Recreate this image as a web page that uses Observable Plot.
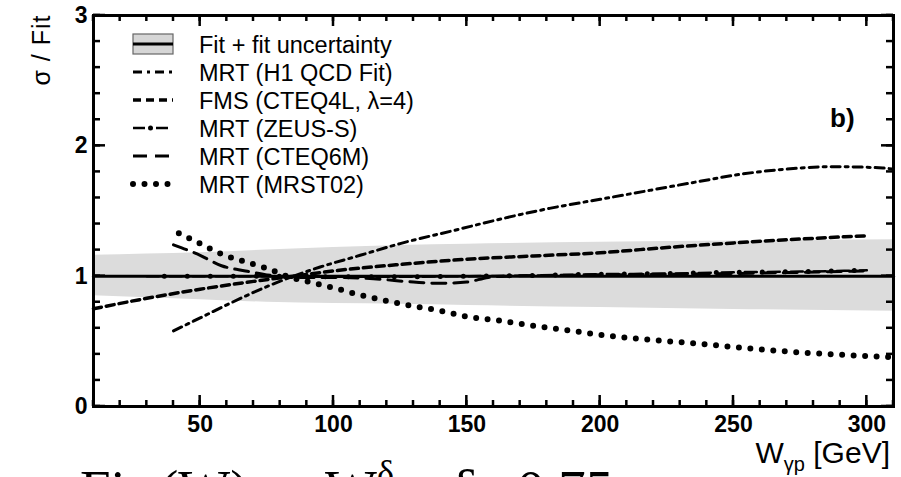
<!DOCTYPE html>
<html><head><meta charset="utf-8">
<script src="https://cdn.jsdelivr.net/npm/d3@7"></script>
<script src="https://cdn.jsdelivr.net/npm/@observablehq/plot@0.6"></script>
<style>
body{margin:0;background:#fff;}
#wrap{position:relative;width:901px;height:477px;overflow:hidden;}
</style></head><body><div id="wrap"></div>
<script>
// ---- data (W in GeV, ratio sigma/Fit) ----
const bandW  = [10, 30, 50, 75, 100, 125, 150, 200, 250, 310];
const bandLo = [0.85, 0.835, 0.82, 0.80, 0.79, 0.785, 0.775, 0.76, 0.745, 0.73];
const bandHi = [1.16, 1.17, 1.18, 1.20, 1.22, 1.235, 1.245, 1.26, 1.27, 1.28];

const fitW = [10, 310];
const fitR = [1, 1];

const h1W = [40, 50, 60, 75, 85, 95, 110, 125, 145, 163, 181, 200, 219, 238, 252, 269, 288, 306, 310];
const h1R = [0.58, 0.68, 0.78, 0.92, 1.0, 1.07, 1.16, 1.25, 1.35, 1.44, 1.52, 1.59, 1.66, 1.73, 1.78, 1.82, 1.84, 1.83, 1.82];

const fmsW = [10, 30, 50, 70, 85, 100, 125, 150, 175, 200, 225, 250, 275, 300];
const fmsR = [0.75, 0.83, 0.90, 0.96, 1.0, 1.04, 1.09, 1.13, 1.155, 1.18, 1.22, 1.255, 1.285, 1.31];

const zeusW = [30, 50, 75, 100, 125, 150, 175, 200, 225, 250, 275, 300];
const zeusR = [1.0, 1.0, 1.0, 0.995, 0.995, 1.0, 1.005, 1.015, 1.02, 1.03, 1.035, 1.045];

const cteqW = [40, 50, 58, 67, 75, 85, 100, 115, 130, 140, 150, 158, 165, 200, 250, 300];
const cteqR = [1.24, 1.16, 1.08, 1.04, 1.01, 0.99, 0.99, 0.98, 0.955, 0.945, 0.955, 0.99, 1.0, 1.01, 1.02, 1.04];

const mrstW = [42, 50, 58, 67, 75, 84, 92, 101, 110, 120, 130, 140, 150, 162, 175, 188, 200, 220, 238, 256, 275, 292, 308];
const mrstR = [1.33, 1.25, 1.17, 1.11, 1.06, 0.99, 0.95, 0.905, 0.855, 0.81, 0.77, 0.735, 0.69, 0.66, 0.62, 0.585, 0.55, 0.51, 0.48, 0.445, 0.415, 0.395, 0.38];

const legendLabels = ["Fit + fit uncertainty", "MRT (H1 QCD Fit)", "FMS (CTEQ4L, \u03bb=4)", "MRT (ZEUS-S)", "MRT (CTEQ6M)", "MRT (MRST02)"];
const xMajor = [50, 100, 150, 200, 250, 300];
const xMinor = d3.range(10, 311, 10);
const yMajor = [0, 1, 2, 3];
const yMinor = d3.range(0, 3.01, 0.2).map(v => +v.toFixed(1));

// ---- tables ----
const zip = (ws, rs) => ws.map((w, i) => ({w, r: rs[i]}));
const band = bandW.map((w, i) => ({w, lo: bandLo[i], hi: bandHi[i]}));
const fit = zip(fitW, fitR), h1 = zip(h1W, h1R), fms = zip(fmsW, fmsR),
      zeus = zip(zeusW, zeusR), cteq = zip(cteqW, cteqR), mrst = zip(mrstW, mrstR);

const styles = {
  h1:   {stroke: "black", strokeWidth: 3, strokeDasharray: "9 5 3 5"},
  fms:  {stroke: "black", strokeWidth: 3.5, strokeDasharray: "8 5"},
  zeusA:{stroke: "black", strokeWidth: 2.5, strokeDasharray: "12 11"},
  zeusB:{stroke: "black", strokeWidth: 5, strokeDasharray: "0 23", strokeDashoffset: -17.5, strokeLinecap: "round"},
  cteq: {stroke: "black", strokeWidth: 3, strokeDasharray: "14 8"},
  mrst: {stroke: "black", strokeWidth: 6, strokeDasharray: "0 11.5", strokeLinecap: "round"}
};

const curve = "monotone-x";
const chart = Plot.plot({
  width: 901, height: 477,
  marginLeft: 93, marginRight: 8, marginTop: 15, marginBottom: 71,
  x: {domain: [10, 310]},
  y: {domain: [0, 3]},
  style: {fontFamily: "'Liberation Sans', Arial, sans-serif", background: "white", color: "black"},
  marks: [
    Plot.areaY(band, {x: "w", y1: "lo", y2: "hi", fill: "#dcdcdc", curve}),
    Plot.line(h1,   {x: "w", y: "r", curve, ...styles.h1}),
    Plot.line(fms,  {x: "w", y: "r", curve, ...styles.fms}),
    Plot.line(zeus, {x: "w", y: "r", curve, ...styles.zeusA}),
    Plot.line(zeus, {x: "w", y: "r", curve, ...styles.zeusB}),
    Plot.line(cteq, {x: "w", y: "r", curve, ...styles.cteq}),
    Plot.line(mrst, {x: "w", y: "r", curve, ...styles.mrst}),
    Plot.line(fit,  {x: "w", y: "r", stroke: "black", strokeWidth: 3}),
    Plot.frame({stroke: "black", strokeWidth: 3}),
    Plot.axisX(xMajor, {anchor: "bottom", tickSize: 0, tickPadding: 9, fontSize: 23, fontWeight: "bold", label: null, tickFormat: d => String(d)}),
    Plot.axisY(yMajor, {anchor: "left", tickSize: 0, tickPadding: 6, fontSize: 23, fontWeight: "bold", label: null, tickFormat: d => String(d)})
  ]
});
document.getElementById("wrap").appendChild(chart);

// ---- inward ticks on all four sides, positioned with Plot's scales ----
const svg = d3.select(chart);
const sx = chart.scale("x"), sy = chart.scale("y");
const [fx0, fx1] = sx.range, [fy0, fy1] = sy.range; // fy0 bottom, fy1 top
const tg = svg.append("g").attr("stroke", "black").attr("stroke-width", 2.5);
const xt = (vals, len) => vals.forEach(v => {
  const X = sx.apply(v);
  tg.append("line").attr("x1", X).attr("x2", X).attr("y1", fy0).attr("y2", fy0 - len);
  tg.append("line").attr("x1", X).attr("x2", X).attr("y1", fy1).attr("y2", fy1 + len);
});
const yt = (vals, len) => vals.forEach(v => {
  const Y = sy.apply(v);
  tg.append("line").attr("y1", Y).attr("y2", Y).attr("x1", fx0).attr("x2", fx0 + len);
  tg.append("line").attr("y1", Y).attr("y2", Y).attr("x1", fx1).attr("x2", fx1 - len);
});
xt(xMinor, 6); xt(xMajor, 11); yt(yMinor, 7); yt(yMajor, 12);

// ---- annotations, legend, labels ----
const sans = "'Liberation Sans', Arial, sans-serif";

// y label
svg.append("text").attr("transform", "translate(50,50) rotate(-90)")
  .attr("text-anchor", "middle").attr("font-family", sans).attr("font-size", 25)
  .attr("letter-spacing", 1).attr("fill", "black").text("\u03c3 / Fit");

// x label with subscript
const xl = svg.append("text").attr("x", 890).attr("y", 463).attr("text-anchor", "end")
  .attr("font-family", sans).attr("font-size", 30).attr("fill", "black");
xl.append("tspan").text("W");
xl.append("tspan").attr("font-size", 20).attr("dy", 8).text("\u03b3p");
xl.append("tspan").attr("dy", -8).text(" [GeV]");

// panel label
svg.append("text").attr("x", 830).attr("y", 127).attr("text-anchor", "start").attr("font-family", sans)
  .attr("font-size", 26).attr("font-weight", "bold").attr("fill", "black").text("b)");

// legend
const lg = svg.append("g").attr("text-anchor", "start");
const legendStyles = [null, [styles.h1], [styles.fms], [styles.zeusA, styles.zeusB], [styles.cteq], [styles.mrst]];
legendLabels.forEach((lab, i) => {
  const base = 53 + i * 28;
  const cy = base - 9;
  if (i === 0) {
    lg.append("rect").attr("x", 133).attr("y", cy - 10).attr("width", 40).attr("height", 20)
      .attr("fill", "#d6d6d6").attr("stroke", "#666").attr("stroke-width", 1.2);
    lg.append("line").attr("x1", 133).attr("x2", 173).attr("y1", cy).attr("y2", cy)
      .attr("stroke", "black").attr("stroke-width", 3);
  } else {
    legendStyles[i].forEach(s => {
      const l = lg.append("line").attr("x1", 133).attr("x2", 173).attr("y1", cy).attr("y2", cy)
        .attr("stroke", s.stroke).attr("stroke-width", s.strokeWidth)
        .attr("stroke-dasharray", s.strokeDasharray);
      if (s.strokeDashoffset != null) l.attr("stroke-dashoffset", s.strokeDashoffset);
      if (s.strokeLinecap) l.attr("stroke-linecap", s.strokeLinecap);
    });
  }
  lg.append("text").attr("x", 199).attr("y", base).attr("text-anchor", "start").attr("font-family", sans)
    .attr("font-size", 23.5).attr("fill", "black").text(lab);
});

// clipped caption at the bottom (serif, only its top is visible)
const serif = "'Liberation Serif', 'DejaVu Serif', serif";
const cap = svg.append("g").attr("font-family", serif).attr("font-size", 55).attr("fill", "black").attr("text-anchor", "start");
[["Fit", 80], ["(W)", 160], ["=", 268]].forEach(([t, x]) => cap.append("text").attr("x", x).attr("y", 508).text(t));
const c2 = cap.append("text").attr("x", 325).attr("y", 508);
c2.append("tspan").text("W");
c2.append("tspan").attr("font-size", 36).attr("dy", -23).text("\u03b4");
c2.append("tspan").attr("dy", 23).text(",");
[["\u03b4", 452], ["=", 486], ["0.75", 517]].forEach(([t, x]) => cap.append("text").attr("x", x).attr("y", 508).text(t));
</script>
</body></html>
